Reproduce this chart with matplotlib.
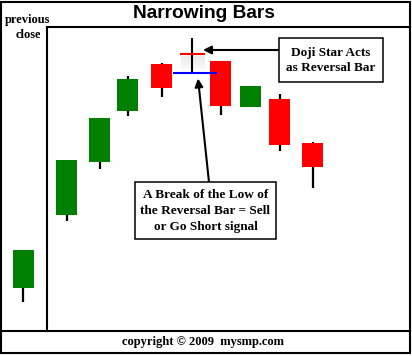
import matplotlib
matplotlib.use("Agg")
import matplotlib.pyplot as plt
from matplotlib.patches import Rectangle

# candle data (price units, higher = up)
x_pos = [23.5, 67, 100, 128, 162, 192, 221, 251, 280, 313]
opens = [68, 140.7, 193.7, 245, 291.7, 302, 295.3, 248.7, 256.7, 213.3]
closes = [105.7, 195.7, 237.7, 276.7, 267.7, 302, 250, 270.3, 210.7, 188.7]
highs = [105.7, 195.7, 237.7, 279.7, 293.3, 318, 295.3, 270.3, 261.7, 214.3]
lows = [53.7, 134.7, 186.7, 240.3, 259, 283.5, 241, 248.7, 205, 168]
doji_idx = 5

title = "Narrowing Bars"
note_top = "Doji Star Acts\nas Reversal Bar"
note_bottom = "A Break of the Low of\nthe Reversal Bar = Sell\nor Go Short signal"
left_label = "previous\nclose"
footer = "copyright \u00a9 2009  mysmp.com"

W, H = 412, 356
fig = plt.figure(figsize=(W / 100, H / 100), dpi=100)
ax = fig.add_axes([0, 0, 1, 1])
ax.set_xlim(0, W)
ax.set_ylim(0, H)
ax.axis("off")

def py(y):
    # pixel row -> axis coordinate
    return H - y

serif = "Liberation Serif"
lw = 1.5

# frame lines
ax.add_patch(Rectangle((1.5, py(353)), 408.5, 351, fill=False, lw=lw, ec="black"))
ax.plot([47.5, 47.5], [py(27), py(331)], color="black", lw=lw)
ax.plot([47.5, 410], [py(27), py(27)], color="black", lw=lw)
ax.plot([1.5, 410], [py(331), py(331)], color="black", lw=lw)

ax.text(204, py(13), title, ha="center", va="center", fontsize=13.8,
        fontweight="bold", family="Liberation Sans")
ax.text(28, py(27.5), left_label, ha="center", va="center", fontsize=9,
        fontweight="bold", family=serif, linespacing=1.35)
ax.text(203, py(342), footer, ha="center", va="center", fontsize=9,
        fontweight="bold", family=serif)

body_w = 21
for i, (x, o, c, h, l) in enumerate(zip(x_pos, opens, closes, highs, lows)):
    if i == doji_idx:
        continue
    color = "#008000" if c > o else "#ff0000"
    ax.plot([x, x], [l, h], color="black", lw=1.6, zorder=2, solid_capstyle="butt")
    ax.add_patch(Rectangle((x - body_w / 2, min(o, c)), body_w, abs(c - o),
                           fc=color, ec="none", zorder=3))

# doji star
dx, do, dh, dl = x_pos[doji_idx], opens[doji_idx], highs[doji_idx], lows[doji_idx]
for k in range(6):
    ax.add_patch(Rectangle((dx - 11, do - 2 - 2.2 * (k + 1)), 24, 2.2,
                           fc="#c8c8c8", alpha=0.35 - 0.05 * k, ec="none", zorder=1))
ax.plot([dx, dx], [dl, dh], color="black", lw=1.5, zorder=3, solid_capstyle="butt")
ax.plot([dx - 11, dx + 12], [do, do], color="#ff0000", lw=1.5, zorder=4)
ax.plot([dx - 18, dx + 24], [dl, dl], color="#0000ff", lw=1.5, zorder=4)

# annotation boxes
ax.add_patch(Rectangle((278.7, py(82.3)), 104, 44, fc="white", ec="black", lw=1.1, zorder=5))
ax.text(330.7, py(60.5), note_top, ha="center", va="center", fontsize=9.5,
        fontweight="bold", family=serif, linespacing=1.4, zorder=6)
ax.annotate("", xy=(dx + 11, py(50)), xytext=(278.7, py(50)),
            arrowprops=dict(arrowstyle="-|>", color="black", lw=1.5,
                            mutation_scale=12, shrinkA=0, shrinkB=0))

ax.add_patch(Rectangle((135, py(239.3)), 141, 57, fc="white", ec="black", lw=1.1, zorder=5))
ax.text(205.5, py(211), note_bottom, ha="center", va="center", fontsize=9.5,
        fontweight="bold", family=serif, linespacing=1.4, zorder=6)
ax.annotate("", xy=(dx + 6, dl - 6), xytext=(209, py(182.3)),
            arrowprops=dict(arrowstyle="-|>", color="black", lw=1.5,
                            mutation_scale=12, shrinkA=0, shrinkB=0))

fig.savefig("out.png", dpi=100)
